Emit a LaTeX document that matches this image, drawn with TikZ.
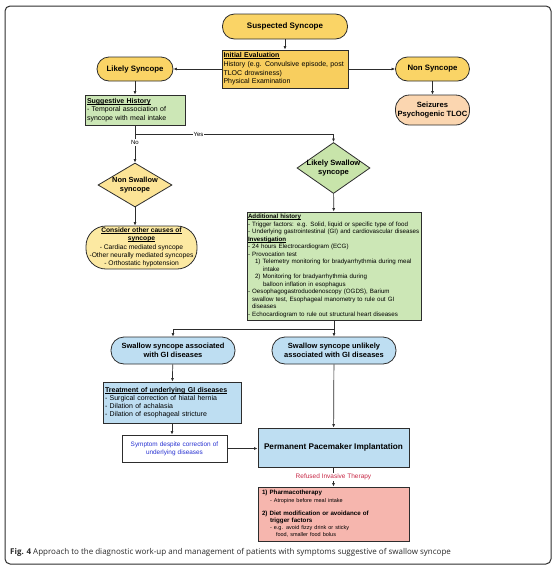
\documentclass[tikz,border=0pt]{standalone}
\usepackage{fontspec}
\setmainfont{Liberation Sans}
\newfontfamily\capfont{Open Sans}
\usepackage{xcolor}
\usetikzlibrary{shapes.geometric,arrows.meta}

\definecolor{synyellow}{RGB}{250,212,102}
\definecolor{evalgold}{RGB}{248,206,94}
\definecolor{peach}{RGB}{251,214,176}
\definecolor{sugggreen}{RGB}{204,231,182}
\definecolor{swgreen}{RGB}{200,228,170}
\definecolor{nsyellow}{RGB}{252,228,150}
\definecolor{conyellow}{RGB}{252,233,162}
\definecolor{gblue}{RGB}{190,222,242}
\definecolor{symblue}{RGB}{40,50,210}
\definecolor{pharmred}{RGB}{246,182,174}
\definecolor{refred}{RGB}{200,40,70}
\definecolor{edgegray}{RGB}{45,45,45}
\definecolor{capgray}{RGB}{40,40,40}

% bold heading with a tight underline
\newcommand{\ulbf}[1]{\leavevmode\setbox0\hbox{\textbf{#1}}\rlap{\rule[-1pt]{\wd0}{.45pt}}\box0}

\begin{document}
\begin{tikzpicture}[x=1pt,y=-1pt]
  \tikzset{font={\fontsize{6pt}{9}\selectfont},
    arr/.style={-{Latex[length=3.5pt,width=3pt]},line width=.7pt,draw=edgegray},
    stadium/.style={draw=edgegray,line width=.8pt,fill=synyellow,rounded corners=12pt,
      align=center,inner sep=1pt,font={\fontsize{7.8pt}{9}\selectfont\bfseries}},
    infobox/.style={draw=edgegray,line width=.8pt,rectangle,align=left,inner xsep=2pt,inner ysep=1pt},
    choice/.style={diamond,draw=edgegray,line width=.8pt,align=center,inner sep=-3pt,
      font={\fontsize{7.6pt}{9}\selectfont\bfseries}}}
  \useasboundingbox (0,0) rectangle (558,571);
  \draw[line width=1pt,rounded corners=5pt,draw=edgegray] (5,6) rectangle (551,564);
  % top row
  \node[stadium,minimum width=125pt,minimum height=25pt,font={\fontsize{8pt}{9}\selectfont\bfseries}] (suspect) at (285,26.5) {Suspected Syncope};
  \node[infobox,fill=evalgold,inner xsep=1.5pt,text width=123pt,minimum height=38pt,font={\fontsize{7pt}{8.6}\selectfont}] (initial) at (285,69)
    {\ulbf{Initial Evaluation}\\History (e.g. Convulsive episode, post\\TLOC drowsiness)\\Physical Examination};
  \node[stadium,minimum width=76pt,minimum height=24pt] (likely) at (135,69) {Likely Syncope};
  \node[stadium,minimum width=74pt,minimum height=24pt] (nonsyn) at (432.5,69) {Non Syncope};
  \node[stadium,fill=peach,minimum width=74pt,minimum height=30pt,rounded corners=14pt,
    font={\fontsize{7.6pt}{8.8}\selectfont\bfseries}] (seizure) at (432.5,110) {Seizures\\Psychogenic TLOC};
  \node[infobox,fill=sugggreen,text width=96pt,minimum height=30pt,font={\fontsize{7pt}{8.6}\selectfont}] (sugg) at (135,110)
    {\ulbf{Suggestive History}\\- Temporal association of\\syncope with meal intake};
  % swallow or not
  \node[choice,fill=swgreen,shape aspect=1.43,minimum width=73pt,minimum height=51pt] (likelysw) at (333.5,168) {Likely Swallow\\syncope};
  \node[choice,fill=nsyellow,shape aspect=1.68,minimum width=74pt,minimum height=44pt,
    font={\fontsize{7.4pt}{8.8}\selectfont\bfseries}] (nonsw) at (135,185) {Non Swallow\\syncope};
  \node[stadium,fill=conyellow,minimum width=111pt,minimum height=43pt,rounded corners=20pt,
    font={\fontsize{6.7pt}{8.3}\selectfont}] (consider) at (141.5,247.5)
    {\ulbf{Consider other causes of}\\\ulbf{syncope}\\- Cardiac mediated syncope\\-Other neurally mediated syncopes\\- Orthostatic hypotension};
  \node[infobox,fill=sugggreen,inner xsep=1pt,text width=172pt,minimum height=108pt,font={\fontsize{6.2pt}{7.5}\selectfont}] (addhist) at (334,266)
    {\ulbf{Additional history}\\
     - Trigger factors: e.g. Solid, liquid or specific type of food\\
     - Underlying gastrointestinal (GI) and cardiovascular diseases\\
     \ulbf{Investigation}\\
     - 24 hours Electrocardiogram (ECG)\\
     - Provocation test\\
     \hspace*{7pt}1) Telemetry monitoring for bradyarrhythmia during meal\\
     \hspace*{15pt}intake\\
     \hspace*{7pt}2) Monitoring for bradyarrhythmia during\\
     \hspace*{15pt}balloon inflation in esophagus\\
     - Oesophagogastroduodenoscopy (OGDS), Barium\\
     \hspace*{4pt}swallow test, Esophageal manometry to rule out GI\\
     \hspace*{4pt}diseases\\
     - Echocardiogram to rule out structural heart diseases};
  % GI branch
  \node[stadium,fill=gblue,minimum width=124pt,minimum height=27pt,rounded corners=13pt,
    font={\fontsize{7.5pt}{8.8}\selectfont\bfseries}] (assoc) at (173,350.5) {Swallow syncope associated\\with GI diseases};
  \node[stadium,fill=gblue,minimum width=124pt,minimum height=27pt,rounded corners=13pt,
    font={\fontsize{7.5pt}{8.8}\selectfont\bfseries}] (unlikely) at (334,350.5) {Swallow syncope unlikely\\associated with GI diseases};
  \node[infobox,fill=gblue,text width=134pt,minimum height=41pt,font={\fontsize{7pt}{8}\selectfont}] (treat) at (172,402.5)
    {\ulbf{Treatment of underlying GI diseases}\\- Surgical correction of hiatal hernia\\- Dilation of achalasia\\- Dilation of esophageal stricture};
  \node[infobox,fill=white,align=center,text width=101pt,minimum height=27pt,text=symblue,
    font={\fontsize{6.4pt}{8}\selectfont}] (symptom) at (174.5,448.5) {Symptom despite correction of\\underlying diseases};
  \node[infobox,fill=gblue,align=center,minimum width=151pt,minimum height=39pt,
    font={\fontsize{8.2pt}{9}\selectfont\bfseries}] (ppm) at (333.5,447.5) {Permanent Pacemaker Implantation};
  \node[infobox,fill=pharmred,inner xsep=4pt,text width=143pt,minimum height=54pt,font={\fontsize{6.2pt}{7.2}\selectfont}] (pharma) at (333.5,514)
    {\textbf{1) Pharmacotherapy}\\
     \hspace*{8pt}{\fontsize{5.5pt}{7.2}\selectfont - Atropine before meal intake}\\[6pt]
     \textbf{2) Diet modification or avoidance of}\\
     \hspace*{8pt}\textbf{trigger factors}\\
     \hspace*{8pt}{\fontsize{5.5pt}{7.2}\selectfont - e.g. avoid fizzy drink or sticky}\\
     \hspace*{14pt}{\fontsize{5.5pt}{7.2}\selectfont food, smaller food bolus}};
  \node[anchor=west,inner sep=0pt,text=capgray,font={\capfont\fontsize{8pt}{9}\selectfont}] (caption) at (10,552)
    {\textbf{Fig. 4} Approach to the diagnostic work-up and management of patients with symptoms suggestive of swallow syncope};
  % connectors
  \coordinate (yesno) at (135,134);
  \coordinate (gisplit) at (334,329);
  \draw[arr] (suspect) -- (initial);
  \draw[arr] (initial) -- (likely);
  \draw[arr] (initial) -- (nonsyn);
  \draw[arr] (nonsyn) -- (seizure);
  \draw[arr] (likely) -- (sugg);
  \draw[line width=.7pt,draw=edgegray] (sugg) -- (yesno);
  \draw[arr] (yesno) -| node[pos=.16,fill=white,inner sep=1pt]{Yes} (likelysw);
  \draw[arr] (yesno) -- node[pos=.3,fill=white,inner sep=1pt]{No} (nonsw);
  \draw[arr] (nonsw.south) -- (nonsw.south |- consider.north);
  \draw[arr] (likelysw) -- (addhist);
  \draw[line width=.7pt,draw=edgegray] (addhist) -- (gisplit);
  \draw[arr] (gisplit) -| (assoc);
  \draw[arr] (gisplit) -- (unlikely);
  \draw[arr] (assoc) -- (treat);
  \draw[arr] (treat.south) -- (treat.south |- symptom.north);
  \draw[arr] (symptom.east) -- (symptom.east -| ppm.west);
  \draw[arr] (unlikely) -- (ppm);
  \draw[arr] (ppm) -- node[fill=white,inner sep=1pt,text=refred,font={\fontsize{6.5pt}{7}\selectfont}]{Refused Invasive Therapy} (pharma);
\end{tikzpicture}
\end{document}
